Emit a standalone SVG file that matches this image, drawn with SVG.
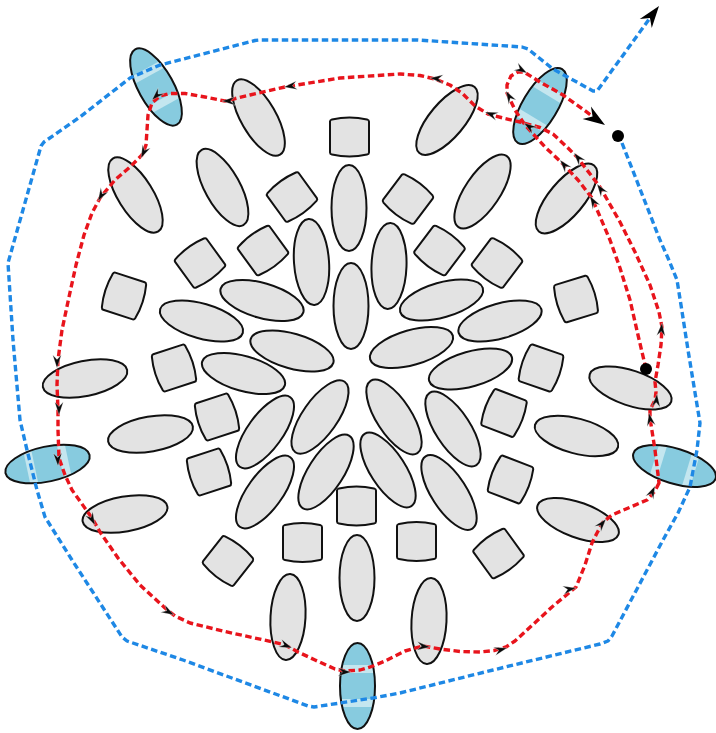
<svg xmlns="http://www.w3.org/2000/svg" xmlns:xlink="http://www.w3.org/1999/xlink" width="716" height="733" viewBox="0 0 716 733">
<style>
.e{fill:#e3e3e3;stroke:#111;stroke-width:2}
.b{fill:#87cbdf}
.o{fill:none;stroke:#111;stroke-width:2}
.l{fill:#c4e6ef}
.s{fill:#e3e3e3;stroke:#111;stroke-width:2;stroke-linejoin:round}
.red{fill:none;stroke:#e8141c;stroke-width:3.400;stroke-dasharray:6.500 3.500;stroke-linejoin:round}
.blue{fill:none;stroke:#1e88e5;stroke-width:3.400;stroke-dasharray:6.500 3.500;stroke-linejoin:round}
.a{fill:#0a0a0a;stroke:#fff;stroke-width:.3}
.d{fill:#000}
</style>
<defs>
<ellipse id="el" cx="0" cy="0" rx="17.5" ry="43"/>
<path id="sq" d="M-19.5-15.500Q-19.5-17-17.500-17.600Q0-21.500 17.500-17.600Q19.5-17 19.5-15.500V15.500Q19.5 17 17.500 17.600Q0 21.500-17.500 17.600Q-19.5 17-19.5 15.500Z"/>
<path id="ah" d="M0 0L-13-4.300L-8.500 0L-13 4.300Z"/>
<path id="ab" d="M0 0L-22-7.500L-15 0L-22 7.500Z"/>
<clipPath id="cp"><ellipse cx="0" cy="0" rx="17.500" ry="43"/></clipPath>
<g id="bl"><ellipse class="b" rx="17.500" ry="43"/><g clip-path="url(#cp)"><rect class="l" x="-20" y="-21" width="40" height="8"/><rect class="l" x="-20" y="13" width="40" height="8"/></g><ellipse class="o" rx="17.500" ry="43"/></g>
</defs>
<g id="nodes">
<g id="e1" transform="translate(351 306)"><use href="#el" class="e"/></g>
<g id="e2" transform="translate(349 208)"><use href="#el" class="e"/></g>
<g id="e3" transform="translate(311.500 262) rotate(-4)"><use href="#el" class="e"/></g>
<g id="e4" transform="translate(389 266) rotate(2)"><use href="#el" class="e"/></g>
<g id="e5" transform="translate(262 300.500) rotate(-74)"><use href="#el" class="e"/></g>
<g id="e6" transform="translate(441.500 300) rotate(74)"><use href="#el" class="e"/></g>
<g id="e7" transform="translate(292 351) rotate(-74)"><use href="#el" class="e"/></g>
<g id="e8" transform="translate(411.500 347.500) rotate(74)"><use href="#el" class="e"/></g>
<g id="e9" transform="translate(201.500 321) rotate(-74)"><use href="#el" class="e"/></g>
<g id="e10" transform="translate(500 321) rotate(74)"><use href="#el" class="e"/></g>
<g id="e11" transform="translate(243.500 373.500) rotate(-74)"><use href="#el" class="e"/></g>
<g id="e12" transform="translate(470.500 369) rotate(74)"><use href="#el" class="e"/></g>
<g id="e13" transform="translate(222.500 187.500) rotate(-29)"><use href="#el" class="e"/></g>
<g id="e14" transform="translate(482.500 191.500) rotate(34)"><use href="#el" class="e"/></g>
<g id="e15" transform="translate(258.500 117.500) rotate(-30)"><use href="#el" class="e"/></g>
<g id="e16" transform="translate(447 120) rotate(40)"><use href="#el" class="e"/></g>
<g id="e17" transform="translate(135.500 195) rotate(-32)"><use href="#el" class="e"/></g>
<g id="e18" transform="translate(566.500 198.500) rotate(40)"><use href="#el" class="e"/></g>
<g id="e21" transform="translate(85 378.500) rotate(78.500)"><use href="#el" class="e"/></g>
<g id="e22" transform="translate(150.500 434) rotate(80)"><use href="#el" class="e"/></g>
<g id="e24" transform="translate(125 514) rotate(80)"><use href="#el" class="e"/></g>
<g id="e25" transform="translate(630.500 388) rotate(-71.500)"><use href="#el" class="e"/></g>
<g id="e26" transform="translate(576.500 436) rotate(-75)"><use href="#el" class="e"/></g>
<g id="e28" transform="translate(578 520) rotate(-70)"><use href="#el" class="e"/></g>
<g id="e29" transform="translate(357 578)"><use href="#el" class="e"/></g>
<g id="e30" transform="translate(288 617) rotate(3)"><use href="#el" class="e"/></g>
<g id="e31" transform="translate(429 621) rotate(3)"><use href="#el" class="e"/></g>
<g id="e33" transform="translate(265 432) rotate(36)"><use href="#el" class="e"/></g>
<g id="e34" transform="translate(320 417) rotate(35)"><use href="#el" class="e"/></g>
<g id="e35" transform="translate(394 417) rotate(-33)"><use href="#el" class="e"/></g>
<g id="e36" transform="translate(453 429) rotate(-33)"><use href="#el" class="e"/></g>
<g id="e37" transform="translate(265 492) rotate(36)"><use href="#el" class="e"/></g>
<g id="e38" transform="translate(326 472) rotate(33)"><use href="#el" class="e"/></g>
<g id="e39" transform="translate(388 470) rotate(-33)"><use href="#el" class="e"/></g>
<g id="e40" transform="translate(449 492.500) rotate(-33)"><use href="#el" class="e"/></g>
<g id="b1" transform="translate(156 87) rotate(-29)"><use href="#bl"/></g>
<g id="b2" transform="translate(540 106) rotate(31)"><use href="#bl"/></g>
<g id="b3" transform="translate(47.500 464) rotate(78)"><use href="#bl"/></g>
<g id="b4" transform="translate(674.500 466) rotate(-73)"><use href="#bl"/></g>
<g id="b5" transform="translate(357.500 686)"><use href="#bl"/></g>
<g id="s1" transform="translate(349.500 137)"><use href="#sq" class="s"/></g>
<g id="s2" transform="translate(292 197) rotate(-36)"><use href="#sq" class="s"/></g>
<g id="s3" transform="translate(408 199) rotate(37)"><use href="#sq" class="s"/></g>
<g id="s4" transform="translate(263 250.500) rotate(-36)"><use href="#sq" class="s"/></g>
<g id="s5" transform="translate(439.500 250.500) rotate(37)"><use href="#sq" class="s"/></g>
<g id="s6" transform="translate(200 263) rotate(-36)"><use href="#sq" class="s"/></g>
<g id="s7" transform="translate(497 263) rotate(37)"><use href="#sq" class="s"/></g>
<g id="s8" transform="translate(124 296) rotate(-72)"><use href="#sq" class="s"/></g>
<g id="s9" transform="translate(576 299) rotate(73)"><use href="#sq" class="s"/></g>
<g id="s10" transform="translate(174 368) rotate(72)"><use href="#sq" class="s"/></g>
<g id="s11" transform="translate(541 368) rotate(-71)"><use href="#sq" class="s"/></g>
<g id="s12" transform="translate(217 417) rotate(72)"><use href="#sq" class="s"/></g>
<g id="s13" transform="translate(209 472) rotate(72)"><use href="#sq" class="s"/></g>
<g id="s14" transform="translate(504 413) rotate(-69)"><use href="#sq" class="s"/></g>
<g id="s15" transform="translate(510.500 479.500) rotate(-69)"><use href="#sq" class="s"/></g>
<g id="s16" transform="translate(356.500 506)"><use href="#sq" class="s"/></g>
<g id="s17" transform="translate(302.500 542.500)"><use href="#sq" class="s"/></g>
<g id="s18" transform="translate(416.500 541.500)"><use href="#sq" class="s"/></g>
<g id="s19" transform="translate(228 561) rotate(38)"><use href="#sq" class="s"/></g>
<g id="s20" transform="translate(498.500 553.500) rotate(-36)"><use href="#sq" class="s"/></g>
</g>
<g id="connectors">
<path class="blue" d="M622 143L660 240L668 258L677 280L681 305L688 350L700 423L697 450L690 487L678 513L663 540L612 636L608 641L600 644L493 670L400 693L373 698L314 707L308 706L183 660L127 641L122 637L72 560L45 517L37 490L27 450L20 420L13 340L8 263L41 146L44 142L80 117L130 78L160 65L255 40.500L260 40L418 40L522 47L528 49L553 69L593 91L597 91L600 87L650 18"/>
<use href="#ab" transform="translate(659 6) rotate(-53)"/>
<path class="red" d="M659 483L655 491L647 500L612 515L603 522L597 533L592 543L585 565L576 587L552 607L527 630L515 641L506 647L494 650.500L480 652L460 651.500L440 649L423 646L405 651L385 661L373 666L360 670L345 671L335 669L315 660L298 652L285 645L273 642L225 631.500L190 623L175 616L165 608L140 585L118 558L100 532L92 518L72 490L65 475L59 458L58 430L58 410L57 385L58 360L62 330L69 297L76 265L84 235L92 213L100 198L115 180L130 167L142 155L146 145L147 130L148 115L152 103L160 96L170 93.500L185 93.500L205 97L225 101L250 95L285 87L340 78L400 74L420 75.500L435 79L450 85L463 94L475 106L488 114L505 118.500L520 122L540 127.500L553 134L568 148L577 157L600 187L620 222L635 252L650 285L659 312L662 327L661 345L658 365L655 382L656 392L655 400L650 410L650 418L655 450Z"/>
<path class="red" d="M646 369L638 335L630 300L620 268L610 240L592 198L578 180L562 163L545 147L525 125L515 110L507 93L507 85L511 76L518 72L524 72L540 82L563 95L595 118"/>
<use href="#ab" transform="translate(605 125) rotate(34)"/>
<g id="arrows">
<use href="#ah" class="a" transform="translate(655 486) rotate(-65)"/>
<use href="#ah" class="a" transform="translate(606 519) rotate(-50)"/>
<use href="#ah" class="a" transform="translate(576 588) rotate(-10)"/>
<use href="#ah" class="a" transform="translate(507 648) rotate(-15)"/>
<use href="#ah" class="a" transform="translate(430 647) rotate(5)"/>
<use href="#ah" class="a" transform="translate(351 672) rotate(0)"/>
<use href="#ah" class="a" transform="translate(292 648) rotate(22)"/>
<use href="#ah" class="a" transform="translate(174 615) rotate(30)"/>
<use href="#ah" class="a" transform="translate(95 525) rotate(62)"/>
<use href="#ah" class="a" transform="translate(58 466) rotate(88)"/>
<use href="#ah" class="a" transform="translate(59 415) rotate(90)"/>
<use href="#ah" class="a" transform="translate(57 368) rotate(90)"/>
<use href="#ah" class="a" transform="translate(98 201) rotate(120)"/>
<use href="#ah" class="a" transform="translate(141 158) rotate(115)"/>
<use href="#ah" class="a" transform="translate(152 100) rotate(135)"/>
<use href="#ah" class="a" transform="translate(222 101) rotate(180)"/>
<use href="#ah" class="a" transform="translate(284 87) rotate(172)"/>
<use href="#ah" class="a" transform="translate(430 78) rotate(185)"/>
<use href="#ah" class="a" transform="translate(485 112) rotate(200)"/>
<use href="#ah" class="a" transform="translate(574 153) rotate(230)"/>
<use href="#ah" class="a" transform="translate(597 184) rotate(235)"/>
<use href="#ah" class="a" transform="translate(662 323) rotate(-85)"/>
<use href="#ah" class="a" transform="translate(657 394) rotate(-85)"/>
<use href="#ah" class="a" transform="translate(649 413) rotate(-100)"/>
<use href="#ah" class="a" transform="translate(590 196) rotate(240)"/>
<use href="#ah" class="a" transform="translate(560 160) rotate(230)"/>
<use href="#ah" class="a" transform="translate(524 123) rotate(215)"/>
<use href="#ah" class="a" transform="translate(506 91) rotate(240)"/>
<use href="#ah" class="a" transform="translate(527 73) rotate(30)"/>
</g>
</g>
<circle class="d" cx="618" cy="136" r="6"/>
<circle class="d" cx="646" cy="369" r="6"/>
</svg>
